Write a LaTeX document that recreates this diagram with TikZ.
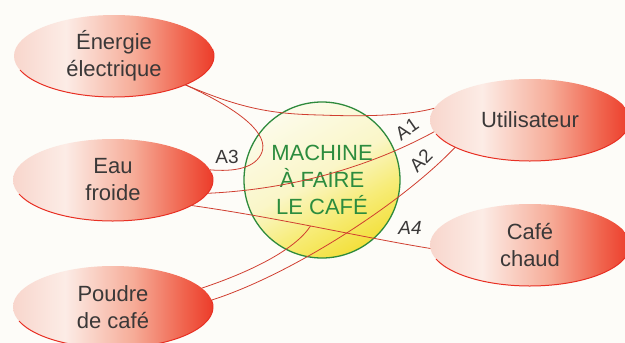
\documentclass[tikz,border=0pt]{standalone}
\usepackage{fontspec}
\setmainfont{Liberation Sans}
\usetikzlibrary{shapes.geometric}
\definecolor{ov0}{RGB}{248,214,204}
\definecolor{ov1}{RGB}{252,236,230}
\definecolor{ov2}{RGB}{246,172,152}
\definecolor{ov3}{RGB}{240,98,76}
\definecolor{ov4}{RGB}{236,60,42}
\pgfdeclarehorizontalshading{ovalshade}{100bp}{color(0bp)=(ov0); color(25bp)=(ov0); color(38bp)=(ov1); color(55bp)=(ov2); color(68bp)=(ov3); color(75bp)=(ov4); color(100bp)=(ov4)}
\definecolor{ye1}{RGB}{243,224,60}
\definecolor{ye15}{RGB}{247,236,120}
\definecolor{ye2}{RGB}{250,246,200}
\definecolor{ye3}{RGB}{252,251,234}
\pgfdeclareverticalshading{circshade}{100bp}{color(0bp)=(ye1); color(25bp)=(ye1); color(38bp)=(ye15); color(52bp)=(ye2); color(75bp)=(ye3); color(100bp)=(ye3)}
\definecolor{bgc}{RGB}{253,252,248}
\definecolor{txt}{RGB}{58,56,56}
\definecolor{grn}{RGB}{46,138,60}
\definecolor{gtxt}{RGB}{44,140,62}
\definecolor{lnred}{RGB}{208,62,48}
\definecolor{edgered}{RGB}{232,48,36}
\newcommand\ovaledge[1]{\draw[ovedge] (#1.center) ++(-10:100 and 41) arc[start angle=-10,end angle=160,x radius=100,y radius=41];}
\begin{document}
\begin{tikzpicture}[x=1pt,y=-1pt,
  oval/.style={ellipse, minimum width=200pt, minimum height=82pt, inner sep=0pt, outer sep=0pt,
    shade, shading=ovalshade, text=txt, align=center, font=\fontsize{22}{27}\selectfont},
  ovedge/.style={draw=edgered, line width=1pt},
  machine/.style={circle, minimum size=156pt, inner sep=0pt, outer sep=0pt, draw=grn, line width=1.3pt,
    shade, shading=circshade, shading angle=30, text=gtxt, align=center, font=\fontsize{22}{27}\selectfont},
  lk/.style={draw=lnred, line width=0.8pt},
  lab/.style={text=txt, inner sep=0pt, font=\fontsize{19}{23}\selectfont}]
\fill[bgc] (0,0) rectangle (625,343);
\useasboundingbox (0,0) rectangle (625,343);
\clip (0,0) rectangle (625,343);

\node[oval] (en) at (114,56) {Énergie\\électrique};
\node[oval] (ef) at (113,180) {Eau\\froide};
\node[oval] (pc) at (113,307) {Poudre\\de café};
\node[oval] (ut) at (530,120) {Utilisateur};
\node[oval] (cc) at (530,245) {Café\\chaud};
\ovaledge{en}
\ovaledge{ef}
\ovaledge{pc}
\ovaledge{ut}
\ovaledge{cc}

\node[machine] (m) at (322,180) {MACHINE\\À FAIRE\\LE CAFÉ};

\draw[lk] (en.-22) .. controls (240,108) and (270,114) .. (320,115) .. controls (370,117) and (410,115) .. (ut.173);
\draw[lk] (en.-22) .. controls (245,112) and (268,135) .. (262,152) .. controls (256,168) and (235,172) .. (ef.6);
\draw[lk] (ef.-8) .. controls (280,190) and (360,172) .. (ut.187);
\draw[lk] (ef.-18) .. controls (280,218) and (360,237) .. (cc.182) coordinate[pos=0.47] (j);
\draw[lk] (pc.12) .. controls (250,272) and (295,250) .. (j);
\draw[lk] (pc.4) .. controls (290,275) and (400,205) .. (ut.200);

\node[lab, rotate=35] (a1) at (407,129) {A1};
\node[lab, rotate=45] (a2) at (421,161) {A2};
\node[lab] (a3) at (227,157) {A3};
\node[lab, font=\fontsize{19}{23}\selectfont\itshape] (a4) at (410,228) {A4};
\end{tikzpicture}
\end{document}
